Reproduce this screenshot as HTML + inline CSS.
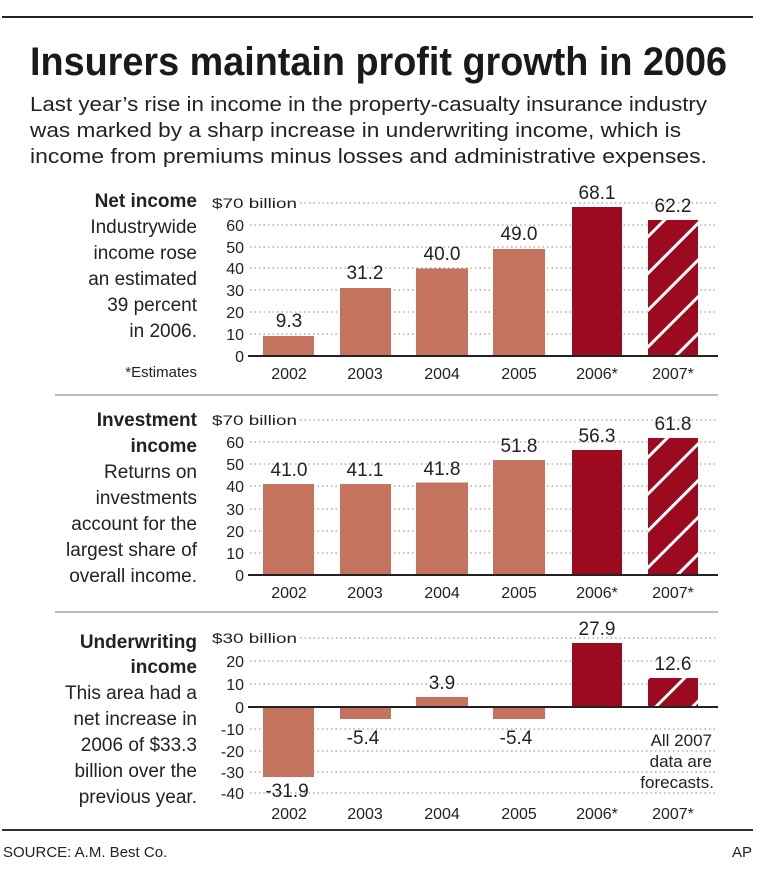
<!DOCTYPE html>
<html><head><meta charset="utf-8"><style>
html,body{margin:0;padding:0;background:#fff;}
svg{display:block;font-family:"Liberation Sans",Arial,sans-serif;}
</style></head><body>
<svg width="760" height="872" viewBox="0 0 760 872" xmlns="http://www.w3.org/2000/svg">
<defs>
<pattern id="h" patternUnits="userSpaceOnUse" width="26" height="26" patternTransform="rotate(45)">
<rect width="26" height="26" fill="#9b0a1e"/><rect x="0" y="0" width="3" height="26" fill="#fff"/>
</pattern>
</defs>
<rect x="2" y="16" width="751" height="2" fill="#222"/>
<text x="30" y="75" font-size="40" font-weight="bold" fill="#1a1a1a" textLength="697" lengthAdjust="spacingAndGlyphs">Insurers maintain profit growth in 2006</text>
<g font-size="20" fill="#222">
<text x="30" y="111" textLength="677" lengthAdjust="spacingAndGlyphs">Last year’s rise in income in the property-casualty insurance industry</text>
<text x="30" y="137" textLength="651" lengthAdjust="spacingAndGlyphs">was marked by a sharp increase in underwriting income, which is</text>
<text x="30" y="163" textLength="677" lengthAdjust="spacingAndGlyphs">income from premiums minus losses and administrative expenses.</text>
</g>

<!-- left texts -->
<g font-size="19" fill="#222" text-anchor="end">
<text x="197" y="207" font-weight="bold">Net income</text>
<text x="197" y="233">Industrywide</text>
<text x="197" y="259">income rose</text>
<text x="197" y="285">an estimated</text>
<text x="197" y="311">39 percent</text>
<text x="197" y="337">in 2006.</text>
<text x="197" y="377" font-size="15">*Estimates</text>

<text x="197" y="426" font-weight="bold">Investment</text>
<text x="197" y="452" font-weight="bold">income</text>
<text x="197" y="478">Returns on</text>
<text x="197" y="504">investments</text>
<text x="197" y="530">account for the</text>
<text x="197" y="556">largest share of</text>
<text x="197" y="582">overall income.</text>

<text x="197" y="648" font-weight="bold">Underwriting</text>
<text x="197" y="673" font-weight="bold">income</text>
<text x="197" y="699">This area had a</text>
<text x="197" y="725">net increase in</text>
<text x="197" y="751">2006 of $33.3</text>
<text x="197" y="777">billion over the</text>
<text x="197" y="803">previous year.</text>
</g>

<g stroke="#888" stroke-width="1" stroke-dasharray="1.5,3">
<!-- chart1 grid -->
<line x1="300" y1="203" x2="718" y2="203"/>
<line x1="250" y1="225" x2="718" y2="225"/>
<line x1="250" y1="247" x2="718" y2="247"/>
<line x1="250" y1="268" x2="718" y2="268"/>
<line x1="250" y1="290" x2="718" y2="290"/>
<line x1="250" y1="312" x2="718" y2="312"/>
<line x1="250" y1="334" x2="718" y2="334"/>
<!-- chart2 -->
<line x1="300" y1="420" x2="718" y2="420"/>
<line x1="250" y1="442" x2="718" y2="442"/>
<line x1="250" y1="464" x2="718" y2="464"/>
<line x1="250" y1="486" x2="718" y2="486"/>
<line x1="250" y1="509" x2="718" y2="509"/>
<line x1="250" y1="531" x2="718" y2="531"/>
<line x1="250" y1="553" x2="718" y2="553"/>
<!-- chart3 -->
<line x1="300" y1="638" x2="718" y2="638"/>
<line x1="250" y1="661" x2="718" y2="661"/>
<line x1="250" y1="684" x2="718" y2="684"/>
<line x1="250" y1="729" x2="718" y2="729"/>
<line x1="250" y1="751" x2="718" y2="751"/>
<line x1="250" y1="772" x2="718" y2="772"/>
<line x1="250" y1="793" x2="718" y2="793"/>
</g>

<!-- tick labels -->
<g font-size="16" fill="#222" text-anchor="end">
<text x="297" y="208" font-size="14" textLength="85" lengthAdjust="spacingAndGlyphs">$70 billion</text>
<text x="244" y="231">60</text><text x="244" y="253">50</text><text x="244" y="274">40</text>
<text x="244" y="296">30</text><text x="244" y="318">20</text><text x="244" y="340">10</text><text x="244" y="362">0</text>

<text x="297" y="425" font-size="14" textLength="85" lengthAdjust="spacingAndGlyphs">$70 billion</text>
<text x="244" y="448">60</text><text x="244" y="470">50</text><text x="244" y="492">40</text>
<text x="244" y="515">30</text><text x="244" y="537">20</text><text x="244" y="559">10</text><text x="244" y="581">0</text>

<text x="297" y="643" font-size="14" textLength="85" lengthAdjust="spacingAndGlyphs">$30 billion</text>
<text x="244" y="667">20</text><text x="244" y="690">10</text><text x="244" y="713">0</text>
<text x="244" y="735">-10</text><text x="244" y="757">-20</text><text x="244" y="778">-30</text><text x="244" y="799">-40</text>
</g>

<!-- chart1 bars -->
<g fill="#c4735f">
<rect x="263" y="336" width="51" height="20"/>
<rect x="340" y="288" width="51" height="68"/>
<rect x="416" y="268.5" width="52" height="87.5"/>
<rect x="493" y="249" width="52" height="107"/>
</g>
<rect x="572" y="207" width="50" height="149" fill="#9b0a1e"/>
<rect x="648" y="220" width="50" height="136" fill="url(#h)"/>
<line x1="248" y1="356" x2="718" y2="356" stroke="#222" stroke-width="2"/>

<!-- chart2 bars -->
<g fill="#c4735f">
<rect x="263" y="484" width="51" height="91"/>
<rect x="340" y="484" width="51" height="91"/>
<rect x="416" y="482.5" width="52" height="92.5"/>
<rect x="493" y="460" width="52" height="115"/>
</g>
<rect x="572" y="450" width="50" height="125" fill="#9b0a1e"/>
<rect x="648" y="438" width="50" height="137" fill="url(#h)"/>
<line x1="248" y1="575" x2="718" y2="575" stroke="#222" stroke-width="2"/>

<!-- chart3 bars -->
<g fill="#c4735f">
<rect x="263" y="707" width="51" height="70"/>
<rect x="340" y="707" width="51" height="12"/>
<rect x="416" y="697" width="52" height="10"/>
<rect x="493" y="707" width="52" height="12"/>
</g>
<rect x="572" y="643" width="50" height="64" fill="#9b0a1e"/>
<rect x="648" y="678" width="50" height="29" fill="url(#h)"/>
<line x1="248" y1="707" x2="718" y2="707" stroke="#222" stroke-width="2"/>

<!-- value labels -->
<g font-size="19" fill="#222" text-anchor="middle">
<text x="289" y="327">9.3</text><text x="365" y="279">31.2</text><text x="442" y="260">40.0</text>
<text x="519" y="240">49.0</text><text x="597" y="199">68.1</text><text x="673" y="212">62.2</text>

<text x="289" y="476">41.0</text><text x="365" y="476">41.1</text><text x="442" y="475">41.8</text>
<text x="519" y="452">51.8</text><text x="597" y="442">56.3</text><text x="673" y="430">61.8</text>

<text x="287" y="797">-31.9</text><text x="363" y="744">-5.4</text><text x="442" y="689">3.9</text>
<text x="516" y="744">-5.4</text><text x="597" y="635">27.9</text><text x="673" y="670">12.6</text>
</g>
<g font-size="17" fill="#222" text-anchor="end">
<text x="712" y="746">All 2007</text><text x="712" y="767">data are</text><text x="714" y="788">forecasts.</text>
</g>

<!-- year labels -->
<g font-size="16" fill="#222" text-anchor="middle">
<text x="289" y="379">2002</text><text x="365" y="379">2003</text><text x="442" y="379">2004</text>
<text x="519" y="379">2005</text><text x="597" y="379">2006*</text><text x="673" y="379">2007*</text>
<text x="289" y="598">2002</text><text x="365" y="598">2003</text><text x="442" y="598">2004</text>
<text x="519" y="598">2005</text><text x="597" y="598">2006*</text><text x="673" y="598">2007*</text>
<text x="289" y="819">2002</text><text x="365" y="819">2003</text><text x="442" y="819">2004</text>
<text x="519" y="819">2005</text><text x="597" y="819">2006*</text><text x="673" y="819">2007*</text>
</g>

<rect x="55" y="394" width="663" height="2" fill="#bbb"/>
<rect x="55" y="611" width="663" height="2" fill="#bbb"/>
<rect x="2" y="829" width="751" height="2" fill="#333"/>
<text x="3" y="857" font-size="15" fill="#222">SOURCE: A.M. Best Co.</text>
<text x="752" y="857" font-size="15" fill="#222" text-anchor="end">AP</text>
</svg>
</body></html>
